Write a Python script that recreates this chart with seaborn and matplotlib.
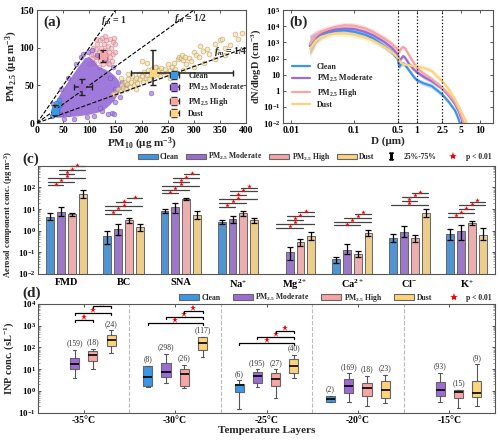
import matplotlib
matplotlib.use('Agg')
import matplotlib.pyplot as plt
from matplotlib.lines import Line2D
from matplotlib.patches import Patch
import numpy as np
import pandas as pd
import seaborn as sns

sns.set_theme(context='paper', style='ticks')
plt.rcParams['font.family'] = ['Liberation Serif', 'DejaVu Serif']
plt.rcParams['font.weight'] = 'bold'
plt.rcParams['axes.labelweight'] = 'bold'
plt.rcParams['mathtext.fontset'] = 'custom'
plt.rcParams['mathtext.rm'] = 'Liberation Serif:bold'
plt.rcParams['mathtext.it'] = 'Liberation Serif:italic:bold'
plt.rcParams['mathtext.bf'] = 'Liberation Serif:bold'
plt.rcParams['axes.edgecolor'] = '#555555'
plt.rcParams['axes.linewidth'] = 0.8

# ---------------- data ----------------
types = ['Clean', 'Moderate', 'High', 'Dust']
labels = ['Clean', 'PM$_{2.5}$ Moderate', 'PM$_{2.5}$ High', 'Dust']
colors = {'Clean': '#3b97e6', 'Moderate': '#9b6cd3', 'High': '#f6a4a4', 'Dust': '#fdd37c'}

# (a) PM10 vs PM2.5
clean_pm10 = [28, 32, 35, 38, 40, 42, 36, 33, 39, 44, 30, 41, 37]
clean_pm25 = [10, 14, 18, 22, 26, 30, 12, 20, 16, 24, 16, 20, 27]
mod_outline_pm10 = [25, 30, 40, 50, 60, 70, 80, 92, 100, 110, 118, 128, 140, 150, 158, 160,
                    155, 148, 140, 130, 118, 100, 80, 60, 40]
mod_outline_pm25 = [9, 20, 33, 45, 55, 65, 75, 86, 88, 82, 75, 72, 68, 62, 55, 45,
                    38, 30, 24, 18, 14, 11, 9, 8, 7]
mod_pm10 = [30, 45, 60, 75, 85, 98, 115, 130, 145, 155, 162, 165, 158, 150, 143, 135, 125,
            110, 95, 70, 52, 88, 105, 150, 140, 170, 120, 60, 45, 148, 219]
mod_pm25 = [25, 45, 60, 78, 88, 95, 90, 85, 75, 68, 55, 48, 35, 28, 14, 12, 16,
            10, 8, 6, 5, 92, 97, 45, 60, 50, 20, 12, 12, 12, 40]
high_pm10 = [100, 105, 108, 110, 112, 115, 115, 118, 120, 120, 122, 125, 125, 128, 128, 130,
             132, 133, 135, 135, 138, 140, 140, 142, 145, 145, 148, 150, 118, 108, 112, 103,
             137, 127, 122, 132, 143, 150, 113, 130]
high_pm25 = [78, 85, 92, 80, 98, 88, 105, 95, 82, 110, 100, 92, 113, 85, 105, 97,
             110, 90, 102, 80, 95, 112, 88, 100, 108, 92, 113, 105, 75, 100, 88, 92,
             78, 78, 90, 84, 82, 95, 112, 115]
dust_pm10 = [150, 155, 160, 162, 165, 168, 170, 172, 175, 178, 180, 182, 185, 188, 190, 192,
             195, 198, 200, 203, 205, 208, 210, 212, 215, 218, 220, 222, 225, 228, 230, 233,
             235, 238, 240, 245, 248, 250, 255, 258, 262, 265, 270, 272, 275, 278, 280, 283,
             285, 290, 295, 300, 305, 310, 312, 318, 325, 330, 340, 345, 350, 355, 360, 370,
             378, 385, 393, 200, 210, 225, 160, 175, 145, 190, 255, 265, 280, 300, 320, 340, 360]
dust_pm25 = [40, 45, 42, 50, 47, 55, 45, 52, 58, 48, 55, 62, 50, 57, 60, 53,
             65, 58, 62, 55, 68, 60, 64, 70, 58, 66, 72, 62, 68, 75, 65, 70,
             62, 73, 68, 72, 66, 78, 70, 74, 80, 72, 85, 88, 86, 90, 84, 88,
             79, 86, 82, 95, 90, 88, 103, 96, 99, 92, 105, 96, 110, 111, 100, 104,
             118, 112, 119, 83, 80, 75, 60, 65, 38, 45, 60, 65, 70, 75, 80, 85, 90]
mean_pm10 = {'Clean': 35, 'Moderate': 86, 'High': 127, 'Dust': 222}
mean_pm25 = {'Clean': 16, 'Moderate': 48, 'High': 89, 'Dust': 66}
pm10_range = {'Clean': (31, 40), 'Moderate': (70, 105), 'High': (118, 133), 'Dust': (180, 375)}
pm25_range = {'Clean': (11, 24), 'Moderate': (37, 58), 'High': (81, 97), 'Dust': (51, 97)}
fm_values = [1, 1 / 2, 1 / 4]
fm_names = ['1', '1/2', '1/4']

# (b) size distributions
diam = [0.02, 0.025, 0.03, 0.04, 0.05, 0.07, 0.1, 0.15, 0.2, 0.3, 0.4, 0.5, 0.52, 0.56,
        0.6, 0.65, 0.75, 0.9, 1.0, 1.3, 1.7, 2.5, 3.2, 4, 4.5, 5, 5.5, 6.5]
psd = {
    'Clean': [600, 1800, 2800, 4200, 5200, 5600, 4600, 3000, 1800, 600, 250, 90, 30, 45,
              50, 40, 18, 7, 4.5, 2.8, 2.0, 0.6, 0.2, 0.06, 0.02, 0.006, 0.002, 0.0005],
    'Moderate': [700, 2200, 3500, 5000, 6200, 7200, 6800, 4500, 2800, 1100, 450, 170, 60, 100,
                 140, 110, 45, 20, 14, 7, 4, 1.4, 0.5, 0.15, 0.06, 0.02, 0.008, 0.001],
    'High': [800, 2600, 4500, 7000, 9000, 11500, 11000, 7500, 4500, 1800, 800, 350, 250, 420,
             520, 420, 160, 50, 25, 11, 5.5, 1.6, 0.6, 0.2, 0.08, 0.03, 0.01, 0.002],
    'Dust': [400, 1300, 2200, 3100, 3500, 3600, 3000, 2000, 1300, 550, 250, 110, 80, 55,
             45, 42, 38, 34, 32, 26, 17, 4, 1.2, 0.3, 0.12, 0.05, 0.025, 0.006],
}
psd_spread = [4, 2.2, 1.8, 1.6, 1.5, 1.5, 1.5, 1.5, 1.5, 1.5, 1.5, 1.5, 1.4, 1.4,
              1.4, 1.4, 1.4, 1.4, 1.4, 1.4, 1.4, 1.4, 1.4, 1.4, 1.4, 1.4, 1.4, 1.4]

# (c) aerosol components
components = ['FMD', 'BC', 'SNA', 'Na$^{+}$', 'Mg$^{2+}$', 'Ca$^{2+}$', 'Cl$^{-}$', 'K$^{+}$']
comp_value = {
    'Clean': [4.3, 0.55, 8.4, 2.5, np.nan, 0.05, 0.46, 0.7],
    'Moderate': [7.5, 1.2, 13, 3.4, 0.1, 0.13, 0.87, 0.93],
    'High': [5.8, 3.0, 29, 6.5, 0.3, 0.08, 0.46, 2.26],
    'Dust': [50, 1.5, 5.3, 3.0, 0.55, 0.78, 6.5, 0.65],
}
comp_q25 = {
    'Clean': [3.2, 0.25, 6.6, 2.0, np.nan, 0.033, 0.29, 0.38],
    'Moderate': [4.6, 0.65, 6.6, 2.3, 0.045, 0.08, 0.49, 0.37],
    'High': [5.0, 2.3, 25, 5.0, 0.2, 0.063, 0.29, 1.75],
    'Dust': [32, 0.95, 3.3, 2.2, 0.35, 0.55, 4.1, 0.35],
}
comp_q75 = {
    'Clean': [6.5, 1.0, 10.2, 3.0, np.nan, 0.06, 0.73, 1.24],
    'Moderate': [12, 2.0, 19, 5.0, 0.18, 0.23, 1.6, 1.75],
    'High': [6.5, 3.8, 33, 8.0, 0.4, 0.11, 0.63, 2.7],
    'Dust': [77, 2.1, 8.2, 4.0, 0.87, 1.1, 10, 1.33],
}
comp_sig = [
    [(0, 1), (0, 2), (0, 3), (1, 2), (1, 3), (2, 3)],
    [(0, 1), (0, 2), (0, 3), (1, 2), (2, 3)],
    [(0, 1), (0, 2), (0, 3), (1, 2), (1, 3), (2, 3)],
    [(0, 1), (0, 2), (0, 3), (1, 2), (1, 3), (2, 3)],
    [(0, 2), (0, 3), (1, 2), (1, 3), (2, 3)],
    [(0, 2), (0, 3), (1, 3), (2, 3)],
    [(0, 3), (1, 2), (1, 3), (2, 3)],
    [(0, 1), (0, 2), (1, 2), (1, 3), (2, 3)],
]

# (d) INP concentrations
layers = ['-35°C', '-30°C', '-25°C', '-20°C', '-15°C']
nan = np.nan
inp_n = {'Clean': [nan, 8, 6, 2, nan], 'Moderate': [159, 298, 195, 169, 93],
         'High': [18, 26, 27, 18, 15], 'Dust': [24, 117, 40, 23, 9]}
inp_whislo = {'Clean': [nan, 1.6, 0.15, 0.3, nan], 'Moderate': [3.8, 2.4, 1.5, 0.3, 0.3],
              'High': [10, 1.33, 0.49, 0.2, 0.16], 'Dust': [55, 38, 3.8, 0.27, 0.21]}
inp_q1 = {'Clean': [nan, 1.7, 0.87, 0.3, nan], 'Moderate': [10, 4.3, 2.4, 0.78, 0.59],
          'High': [22.6, 1.76, 1.76, 0.61, 0.49], 'Dust': [111, 75, 6.5, 0.46, 0.53]}
inp_med = {'Clean': [nan, 4.3, 1.9, 0.41, nan], 'Moderate': [17.6, 7.8, 4.9, 1.76, 1.1],
           'High': [43, 6.1, 3.6, 1.33, 0.87], 'Dust': [226, 160, 14, 1.1, 0.78]}
inp_q3 = {'Clean': [nan, 14, 2.1, 0.59, nan], 'Moderate': [32, 19, 7.8, 3.6, 2.5],
          'High': [65, 10, 6.5, 2.3, 1.1], 'Dust': [357, 300, 30, 3.0, 3.0]}
inp_whishi = {'Clean': [nan, 14, 3.1, 0.59, nan], 'Moderate': [78, 49, 10, 6.5, 7],
              'High': [87, 16, 10, 4.9, 1.1], 'Dust': [600, 300, 46, 5.5, 17]}
inp_sig = [[(1, 2), (1, 3), (2, 3)], [(0, 3), (1, 3), (2, 3)], [(0, 3), (1, 3), (2, 3)], [], []]

# ---------------- layout ----------------
fig = plt.figure(figsize=(5.0, 4.41), dpi=100)
ax_a = fig.add_axes([0.074, 0.721, 0.418, 0.256])
ax_b = fig.add_axes([0.566, 0.721, 0.420, 0.256])
ax_c = fig.add_axes([0.076, 0.379, 0.914, 0.245])
ax_d = fig.add_axes([0.076, 0.064, 0.914, 0.247])

for ax in (ax_a, ax_b, ax_c, ax_d):
    ax.tick_params(direction='in', top=True, right=True, labelsize=7, width=0.7,
                   length=2.5, colors='#555555', labelcolor='black', pad=2)
    ax.tick_params(which='minor', direction='in', top=True, right=True, width=0.5,
                   length=1.5, colors='#777777')

edge = {'Clean': '#2a6eb0', 'Moderate': '#6a44a8', 'High': '#c87482', 'Dust': '#b89a55'}

# ---- (a)
ax_a.fill(mod_outline_pm10, mod_outline_pm25, color='#8f63d4', alpha=0.85, lw=0, zorder=2)
sns.scatterplot(x=high_pm10, y=high_pm25, ax=ax_a, s=12, color='#f2aab0', alpha=0.6,
                edgecolor=edge['High'], linewidth=0.5, zorder=1)
sns.scatterplot(x=mod_pm10, y=mod_pm25, ax=ax_a, s=12, color='#a07ade', alpha=0.7,
                edgecolor=edge['Moderate'], linewidth=0.4, zorder=2)
sns.scatterplot(x=dust_pm10, y=dust_pm25, ax=ax_a, s=12, color='#f4e0b0', alpha=0.7,
                edgecolor=edge['Dust'], linewidth=0.5, zorder=2)
sns.scatterplot(x=clean_pm10, y=clean_pm25, ax=ax_a, s=12, color='#4aa0ea', alpha=0.8,
                edgecolor=edge['Clean'], linewidth=0.4, zorder=3)
xs = np.array([0, 400])
for fm in fm_values:
    ax_a.plot(xs, fm * xs, ls='--', color='black', lw=0.8, zorder=4)
ax_a.text(122, 133, '$\\it{f}$$_{m}$ = ' + fm_names[0], fontsize=7)
ax_a.text(262, 135, '$\\it{f}$$_{m}$ = ' + fm_names[1], fontsize=7)
ax_a.text(338, 92, '$\\it{f}$$_{m}$ = ' + fm_names[2], fontsize=7)
handles_a = []
for t, lab in zip(types, labels):
    x0, y0 = mean_pm10[t], mean_pm25[t]
    lo_x, hi_x = pm10_range[t]
    lo_y, hi_y = pm25_range[t]
    h = ax_a.errorbar(x0, y0, xerr=[[x0 - lo_x], [hi_x - x0]], yerr=[[y0 - lo_y], [hi_y - y0]],
                      fmt='s', ms=4.5, mfc=colors[t], mec=colors[t], ecolor='#222222',
                      elinewidth=1.1, capsize=2.5, zorder=5, label=lab)
    handles_a.append(h)
ax_a.legend(handles=handles_a, loc='lower left', bbox_to_anchor=(0.6, 0.0), fontsize=5.8,
            frameon=False, handlelength=1.8, labelspacing=0.3, borderaxespad=0.2)
ax_a.set_xlim(0, 400)
ax_a.set_ylim(0, 150)
ax_a.set_xticks(range(0, 401, 50))
ax_a.set_yticks([0, 50, 100, 150])
ax_a.set_xlabel('PM$_{10}$ (μg m$^{-3}$)', fontsize=8, labelpad=1)
ax_a.set_ylabel('PM$_{2.5}$ (μg m$^{-3}$)', fontsize=8, labelpad=0)
ax_a.text(0.03, 0.86, '(a)', transform=ax_a.transAxes, fontsize=11)

# ---- (b)
ax_b.set_xscale('log')
ax_b.set_yscale('log')
for t, lab in zip(types, labels):
    vals = np.array(psd[t])
    spread = np.array(psd_spread)
    ax_b.fill_between(diam, vals / spread, vals * spread, color=colors[t], alpha=0.3, lw=0)
    sns.lineplot(x=diam, y=vals, ax=ax_b, color=colors[t], lw=1.6, label=lab)
for d in [0.5, 1, 2.5]:
    ax_b.axvline(d, color='black', ls=':', lw=0.9)
ax_b.set_xlim(0.0075, 16)
ax_b.set_ylim(1e-2, 1e5)
ax_b.set_xticks([0.01, 0.1, 0.5, 1, 2.5, 5, 10])
ax_b.set_xticklabels(['0.01', '0.1', '0.5', '1', '2.5', '5', '10'])
ax_b.set_yticks([1e-2, 1e-1, 1, 10, 1e2, 1e3, 1e4, 1e5])
ax_b.set_yticklabels(['10$^{-2}$', '10$^{-1}$', '1', '10', '10$^{2}$', '10$^{3}$',
                      '10$^{4}$', '10$^{5}$'])
ax_b.tick_params(axis='y', labelsize=6.5)
ax_b.minorticks_off()
ax_b.set_xlabel('D (μm)', fontsize=8, labelpad=1)
ax_b.set_ylabel('dN/dlogD (cm$^{-3}$)', fontsize=7.5, labelpad=0)
ax_b.legend(loc='lower left', bbox_to_anchor=(0.01, 0.06), fontsize=5.8, frameon=False,
            handlelength=2.2, labelspacing=0.3)
ax_b.text(0.03, 0.86, '(b)', transform=ax_b.transAxes, fontsize=11)

# ---- (c)
rows = []
for t in types:
    for c, v in zip(components, comp_value[t]):
        rows.append({'component': c, 'type': t, 'value': v})
comp_df = pd.DataFrame(rows)
ax_c.set_yscale('log')
sns.barplot(data=comp_df, x='component', y='value', hue='type', order=components,
            hue_order=types, palette=colors, width=0.76, gap=0.28, errorbar=None,
            edgecolor='#666666', linewidth=0.7, ax=ax_c, legend=False)
offsets = [-0.285, -0.095, 0.095, 0.285]
for ti, t in enumerate(types):
    for ci in range(len(components)):
        v = comp_value[t][ci]
        if np.isnan(v):
            continue
        x = ci + offsets[ti]
        ax_c.errorbar(x, v, yerr=[[v - comp_q25[t][ci]], [comp_q75[t][ci] - v]], fmt='none',
                      ecolor='black', elinewidth=0.9, capsize=2, capthick=0.9, zorder=4)
for ci, pairs in enumerate(comp_sig):
    tops = [comp_q75[t][ci] for t in types if not np.isnan(comp_q75[t][ci])]
    base = 1.6 * max(tops)
    for k, (i, j) in enumerate(pairs):
        y = base * 1.5 ** k
        ax_c.plot([ci + offsets[i] - 0.04, ci + offsets[j] + 0.04], [y, y], color='#444444',
                  lw=0.9, clip_on=False)
        ax_c.plot((2 * ci + offsets[i] + offsets[j]) / 2, y * 1.18, marker='*', color='red',
                  ms=3.5, mew=0, clip_on=False)
ax_c.set_xlim(-0.5, 7.5)
ax_c.set_ylim(1e-2, 1e3)
ax_c.set_yticks([1e-2, 1e-1, 1, 10, 1e2])
ax_c.set_yticklabels(['10$^{-2}$', '10$^{-1}$', '10$^{0}$', '10$^{1}$', '10$^{2}$'])
ax_c.tick_params(axis='y', labelsize=6.5, pad=1.5)
ax_c.set_xlabel('')
ax_c.set_ylabel('Aerosol component conc. (μg m$^{-3}$)', fontsize=6.2)
ax_c.yaxis.set_label_coords(-0.05, 0.55)
ax_c.tick_params(axis='x', length=0, labelsize=7.5, pad=3)

c_handles = [Patch(facecolor=colors[t], edgecolor='#666666', label=lab)
             for t, lab in zip(types, labels)]
c_handles.append(Line2D([], [], color='black', marker='$\\mathbf{I}$', ls='', ms=5,
                        label='25%-75%'))
c_handles.append(Line2D([], [], color='red', marker='*', ls='', ms=6, mew=0, label='p < 0.01'))
ax_c.legend(handles=c_handles, loc='lower right', bbox_to_anchor=(1.0, 0.99), ncol=6,
            fontsize=5.5, frameon=False, handlelength=2.6, handleheight=0.8,
            columnspacing=0.9, handletextpad=0.3, borderaxespad=0.1)
fig.text(0.044, 0.63, '(c)', fontsize=11)

# ---- (d)
ax_d.set_yscale('log')
box_off = [-0.3, -0.1, 0.1, 0.3]
for ti, t in enumerate(types):
    stats, pos = [], []
    for gi in range(len(layers)):
        if np.isnan(inp_med[t][gi]):
            continue
        stats.append({'med': inp_med[t][gi], 'q1': inp_q1[t][gi], 'q3': inp_q3[t][gi],
                      'whislo': inp_whislo[t][gi], 'whishi': inp_whishi[t][gi], 'fliers': []})
        pos.append(gi + box_off[ti])
        ax_d.text(gi + box_off[ti], inp_whishi[t][gi] * 1.3, '(%d)' % inp_n[t][gi],
                  ha='center', va='bottom', fontsize=5.5, fontweight='normal', color='#333333')
    ax_d.bxp(stats, positions=pos, widths=0.1, patch_artist=True, showfliers=False,
             boxprops=dict(facecolor=colors[t], edgecolor='#666666', lw=0.8),
             medianprops=dict(color='black', lw=1.2),
             whiskerprops=dict(color='#555555', lw=0.8),
             capprops=dict(color='#555555', lw=0.8), capwidths=0.04, manage_ticks=False)
for gi in range(len(layers) - 1):
    ax_d.axvline(gi + 0.5, color='#bbbbbb', ls='--', lw=0.8)
bracket_base = [1820, 1290, 160, 1, 1]
bracket_step = [2.05, 1.9, 1.9, 1, 1]
for gi, pairs in enumerate(inp_sig):
    for k, (i, j) in enumerate(pairs):
        y = bracket_base[gi] * bracket_step[gi] ** k
        x1, x2 = gi + box_off[i], gi + box_off[j]
        ax_d.plot([x1, x1, x2, x2], [y / 1.2, y, y, y / 1.2], color='black', lw=0.9)
        ax_d.plot((x1 + x2) / 2, y * 1.4, marker='*', color='red', ms=5, mew=0)
ax_d.set_xlim(-0.5, 4.5)
ax_d.set_ylim(1e-1, 1e4)
ax_d.set_xticks(range(len(layers)))
ax_d.set_xticklabels(layers, fontsize=7)
ax_d.set_yticks([1e-1, 1, 10, 1e2, 1e3, 1e4])
ax_d.set_yticklabels(['10$^{-1}$', '10$^{0}$', '10$^{1}$', '10$^{2}$', '10$^{3}$', '10$^{4}$'])
ax_d.tick_params(axis='y', labelsize=6.5, pad=1.5)
ax_d.set_xlabel('Temperature Layers', fontsize=8, labelpad=1)
ax_d.set_ylabel('INP conc. (sL$^{-1}$)', fontsize=7.5)
ax_d.yaxis.set_label_coords(-0.048, 0.5)

d_handles = [Patch(facecolor=colors[t], edgecolor='#666666', label=lab)
             for t, lab in zip(types, labels)]
d_handles.append(Line2D([], [], color='red', marker='*', ls='', ms=6, mew=0, label='p < 0.01'))
ax_d.legend(handles=d_handles, loc='lower right', bbox_to_anchor=(1.0, 0.975), ncol=5,
            fontsize=5.5, frameon=False, handlelength=2.6, handleheight=0.7,
            columnspacing=1.6, handletextpad=0.3, borderaxespad=0.0)
fig.text(0.044, 0.328, '(d)', fontsize=11)

fig.savefig('out.png', dpi=100)
